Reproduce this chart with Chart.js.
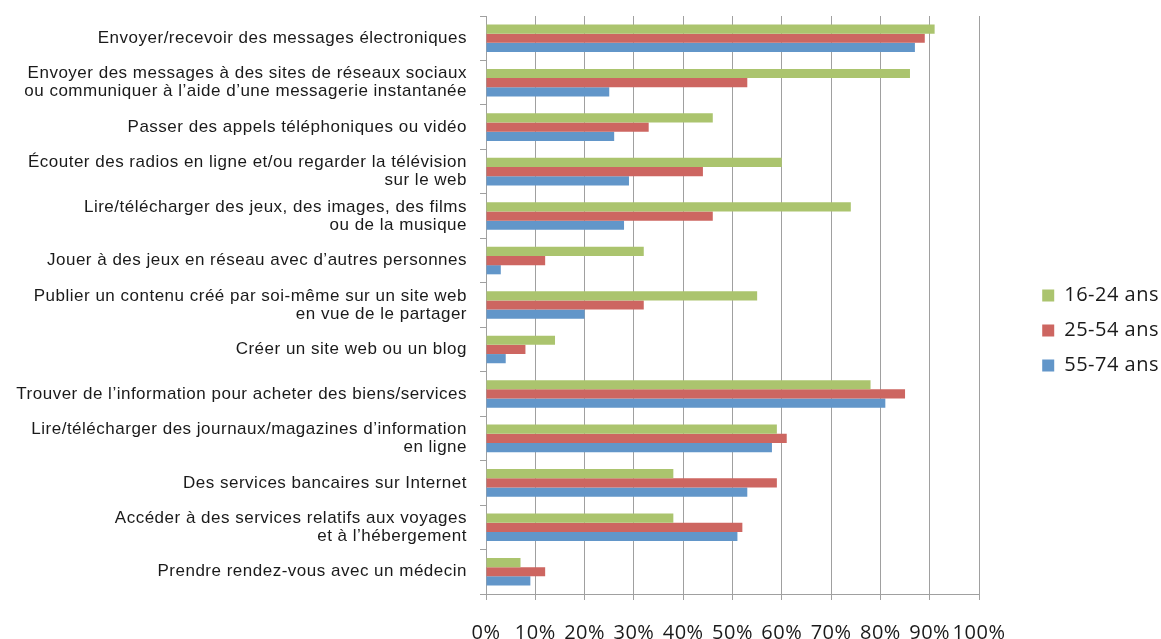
<!DOCTYPE html>
<html lang="fr">
<head>
<meta charset="utf-8">
<title>Activités sur Internet par âge</title>
<script src="https://cdn.jsdelivr.net/npm/chart.js@4"></script>
<style>
  html, body { margin: 0; padding: 0; background: #fff; }
  #wrap { width: 1161px; height: 639px; position: relative; }
</style>
</head>
<body>
<div id="wrap"><canvas id="usageChart"></canvas></div>
<script>
// Activities (y axis), multi-line labels as arrays
const categories = [
    'Envoyer/recevoir des messages électroniques',
    ['Envoyer des messages à des sites de réseaux sociaux', 'ou communiquer à l’aide d’une messagerie instantanée'],
    'Passer des appels téléphoniques ou vidéo',
    ['Écouter des radios en ligne et/ou regarder la télévision', 'sur le web'],
    ['Lire/télécharger des jeux, des images, des films', 'ou de la musique'],
    'Jouer à des jeux en réseau avec d’autres personnes',
    ['Publier un contenu créé par soi-même sur un site web', 'en vue de le partager'],
    'Créer un site web ou un blog',
    'Trouver de l’information pour acheter des biens/services',
    ['Lire/télécharger des journaux/magazines d’information', 'en ligne'],
    'Des services bancaires sur Internet',
    ['Accéder à des services relatifs aux voyages', 'et à l’hébergement'],
    'Prendre rendez-vous avec un médecin'
];

// Share of each age group (%)
const age16to24 = [91, 86, 46, 60, 74, 32, 55, 14, 78, 59, 38, 38, 7];
const age25to54 = [89, 53, 33, 44, 46, 12, 32, 8, 85, 61, 59, 52, 12];
const age55to74 = [87, 25, 26, 29, 28, 3, 20, 4, 81, 58, 53, 51, 9];

const seriesLabels = ['16-24 ans', '25-54 ans', '55-74 ans'];
const xTickLabels = ['0%', '10%', '20%', '30%', '40%', '50%', '60%', '70%', '80%', '90%', '100%'];

const gridGrey = '#a0a0a0';

// slightly wider text spacing on every label
const letterSpacing = {
    id: 'letterSpacing',
    beforeUpdate(chart) { chart.ctx.letterSpacing = '0.5px'; },
    beforeDraw(chart) { chart.ctx.letterSpacing = '0.5px'; }
};

// push the legend column against the right edge of the canvas
const legendRight = {
    id: 'legendRight',
    afterLayout(chart) {
        const lg = chart.legend;
        const dx = chart.width - lg.right + 8;
        lg.left += dx;
        lg.right += dx;
        lg.top += 3;
        lg.bottom += 3;
    }
};

const ctx = document.getElementById('usageChart').getContext('2d');
new Chart(ctx, {
    type: 'bar',
    data: {
        labels: categories,
        datasets: [
            { label: seriesLabels[0], data: age16to24, backgroundColor: '#abc46e' },
            { label: seriesLabels[1], data: age25to54, backgroundColor: '#cd6661' },
            { label: seriesLabels[2], data: age55to74, backgroundColor: '#6296c9' }
        ]
    },
    options: {
        indexAxis: 'y',
        responsive: true,
        maintainAspectRatio: false,
        animation: false,
        datasets: {
            bar: { categoryPercentage: 0.62, barPercentage: 1.0, borderWidth: 0 }
        },
        layout: { padding: { top: 16, left: 0, right: 0, bottom: 0 } },
        plugins: {
            tooltip: { enabled: false },
            legend: {
                position: 'right',
                labels: {
                    boxWidth: 12,
                    boxHeight: 12,
                    padding: 15,
                    color: '#1a1a1a',
                    font: { family: '"Open Sans", sans-serif', size: 20 }
                }
            }
        },
        scales: {
            x: {
                min: 0,
                max: 100,
                ticks: {
                    stepSize: 10,
                    autoSkip: false,
                    maxRotation: 0,
                    padding: 21,
                    color: '#1a1a1a',
                    font: { family: '"Open Sans", sans-serif', size: 20, lineHeight: 1.2 },
                    callback: (value, i) => xTickLabels[i]
                },
                grid: { color: gridGrey, lineWidth: 1, tickLength: 6 },
                border: { color: gridGrey, width: 1 },
                afterFit(scale) {
                    // room on the right for the legend column
                    scale.paddingRight = 182;
                    scale.height = 45;
                }
            },
            y: {
                ticks: {
                    autoSkip: false,
                    padding: 13,
                    color: '#1a1a1a',
                    font: { family: '"Liberation Sans", Arial, sans-serif', size: 17, lineHeight: 1.06 }
                },
                grid: { drawOnChartArea: false, tickLength: 6, color: gridGrey },
                border: { color: gridGrey, width: 1 },
                afterFit(scale) {
                    scale.width = 486;
                    scale.paddingTop = 0;
                    scale.paddingBottom = 0;
                }
            }
        }
    },
    plugins: [letterSpacing, legendRight]
});
</script>
</body>
</html>
